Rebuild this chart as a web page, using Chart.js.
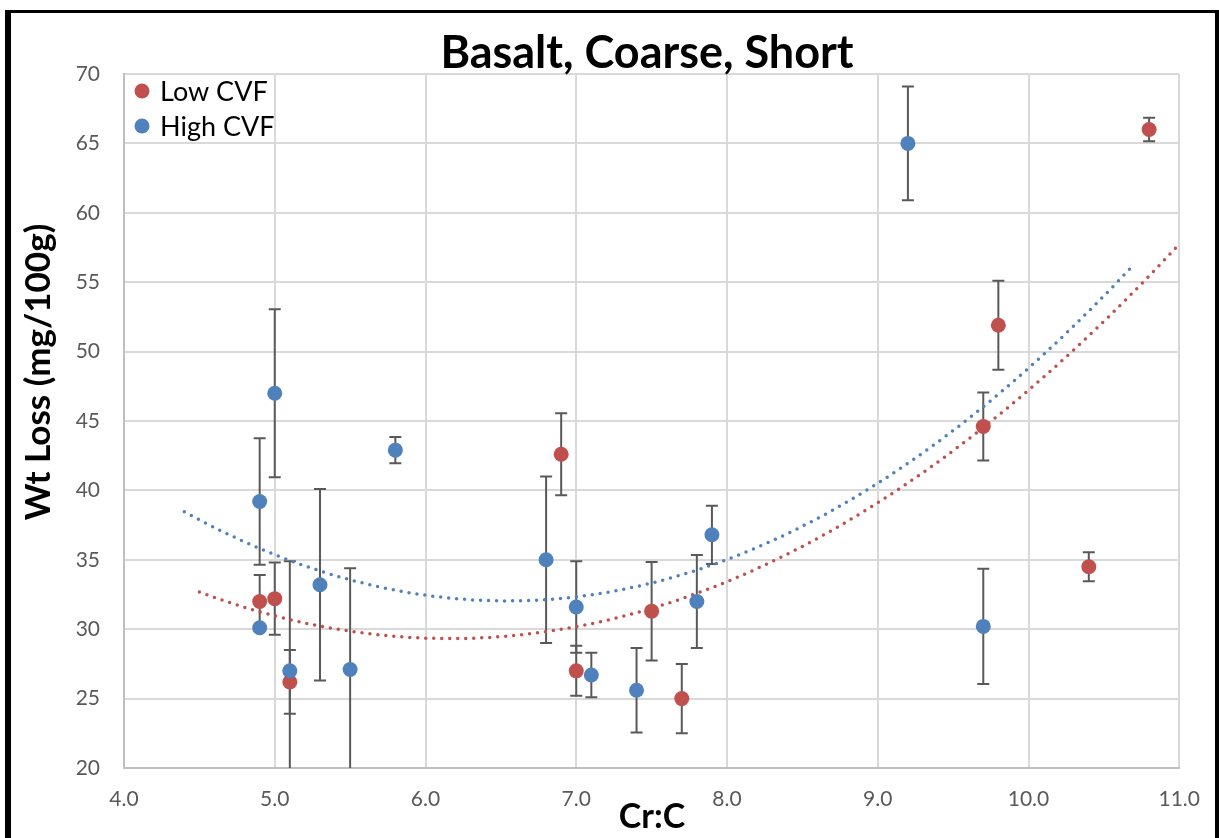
<!DOCTYPE html>
<html>
<head>
<meta charset="utf-8">
<title>Basalt, Coarse, Short</title>
<script src="https://cdn.jsdelivr.net/npm/chart.js@4"></script>
<style>
  html, body { margin: 0; padding: 0; background: #fff; }
  #wrap { position: relative; width: 1219px; height: 838px; overflow: hidden; }
  #wrap canvas { position: absolute; left: 0; top: 0; }
  #frame {
    position: absolute; left: 5px; top: 10px; width: 1204px; height: 900px;
    border-left: 6px solid #000; border-top: 3px solid #000; border-right: 4px solid #000;
    pointer-events: none;
  }
</style>
</head>
<body>
<div id="wrap">
  <canvas id="chart" width="1219" height="838"></canvas>
  <div id="frame"></div>
</div>
<script>
// Cr:C ratio, weight loss and its error (±) for each specimen
const lowX    = [4.9, 5.0, 5.1, 6.9, 7.0, 7.5, 7.7, 9.7, 9.8, 10.4, 10.8];
const lowY    = [32.0, 32.2, 26.2, 42.6, 27.0, 31.3, 25.0, 44.6, 51.9, 34.5, 66.0];
const lowErr  = [1.9, 2.6, 2.3, 2.95, 1.8, 3.55, 2.5, 2.45, 3.2, 1.05, 0.85];

const highX   = [4.9, 4.9, 5.0, 5.1, 5.3, 5.5, 5.8, 6.8, 7.0, 7.1, 7.4, 7.8, 7.9, 9.2, 9.7];
const highY   = [39.2, 30.1, 47.0, 27.0, 33.2, 27.1, 42.9, 35.0, 31.6, 26.7, 25.6, 32.0, 36.8, 65.0, 30.2];
const highErr = [4.55, 0, 6.05, 7.9, 6.9, 7.3, 0.95, 6.0, 3.3, 1.6, 3.05, 3.35, 2.1, 4.1, 4.15];

// x extent of each polynomial trendline (with forecast)
const lowTrendRange  = [4.5, 11.0];
const highTrendRange = [4.4, 10.7];

// axis ticks
const xTicks = [4, 5, 6, 7, 8, 9, 10, 11];
const yTicks = [20, 25, 30, 35, 40, 45, 50, 55, 60, 65, 70];

const RED = '#c0504d';
const BLUE = '#4f81bd';
const FONT = 'Lato, "Open Sans", sans-serif';

// second-order least-squares fit: y = c0 + c1 x + c2 x^2
function quadFit(xs, ys) {
  const s = [0, 0, 0, 0, 0], t = [0, 0, 0];
  xs.forEach((x, i) => {
    for (let k = 0; k < 5; k++) s[k] += Math.pow(x, k);
    for (let k = 0; k < 3; k++) t[k] += ys[i] * Math.pow(x, k);
  });
  const m = [[s[0], s[1], s[2], t[0]], [s[1], s[2], s[3], t[1]], [s[2], s[3], s[4], t[2]]];
  for (let c = 0; c < 3; c++) {
    let p = c;
    for (let r = c + 1; r < 3; r++) if (Math.abs(m[r][c]) > Math.abs(m[p][c])) p = r;
    [m[c], m[p]] = [m[p], m[c]];
    for (let r = 0; r < 3; r++) {
      if (r === c) continue;
      const f = m[r][c] / m[c][c];
      for (let k = c; k < 4; k++) m[r][k] -= f * m[c][k];
    }
  }
  return [m[0][3] / m[0][0], m[1][3] / m[1][1], m[2][3] / m[2][2]];
}

function trendPoints(xs, ys, range) {
  const c = quadFit(xs, ys);
  const pts = [];
  const n = 200;
  for (let i = 0; i <= n; i++) {
    const x = range[0] + (range[1] - range[0]) * i / n;
    pts.push({ x, y: c[0] + c[1] * x + c[2] * x * x });
  }
  return pts;
}

const toPoints = (xs, ys) => xs.map((x, i) => ({ x, y: ys[i] }));

// error bars, legend, titles
const decor = {
  id: 'decor',
  beforeDatasetsDraw(chart) {
    const { ctx, chartArea: a, scales: { x, y } } = chart;
    ctx.save();
    ctx.beginPath();
    ctx.rect(a.left, a.top, a.right - a.left, a.bottom - a.top);
    ctx.clip();
    ctx.strokeStyle = '#595959';
    ctx.lineWidth = 2;
    chart.data.datasets.forEach(ds => {
      if (!ds.errors) return;
      ds.data.forEach((p, i) => {
        const e = ds.errors[i];
        const px = x.getPixelForValue(p.x);
        const top = y.getPixelForValue(p.y + e);
        const bot = y.getPixelForValue(p.y - e);
        ctx.beginPath();
        ctx.moveTo(px, top); ctx.lineTo(px, bot);
        ctx.moveTo(px - 6, top); ctx.lineTo(px + 6, top);
        ctx.moveTo(px - 6, bot); ctx.lineTo(px + 6, bot);
        ctx.stroke();
      });
    });
    ctx.restore();
  },
  afterDraw(chart) {
    const { ctx } = chart;
    ctx.save();
    ctx.fillStyle = '#000';
    // chart title
    ctx.font = 'bold 45px ' + FONT;
    ctx.textAlign = 'center';
    ctx.textBaseline = 'alphabetic';
    ctx.fillText('Basalt, Coarse, Short', 647, 68);
    // x axis title
    ctx.font = 'bold 34px ' + FONT;
    ctx.fillText('Cr:C', 652, 828);
    // y axis title
    ctx.save();
    ctx.translate(39, 372);
    ctx.rotate(-Math.PI / 2);
    ctx.textBaseline = 'middle';
    ctx.font = 'bold 35px ' + FONT;
    ctx.fillText('Wt Loss (mg/100g)', 0, 0);
    ctx.restore();
    // legend
    const items = [['Low CVF', RED], ['High CVF', BLUE]];
    ctx.font = '27px ' + FONT;
    ctx.textAlign = 'left';
    ctx.textBaseline = 'middle';
    items.forEach(([label, col], i) => {
      const cy = 91 + i * 35;
      ctx.fillStyle = col;
      ctx.beginPath();
      ctx.arc(142, cy, 7.5, 0, Math.PI * 2);
      ctx.fill();
      ctx.fillStyle = '#000';
      ctx.fillText(label, 160, cy + 1);
    });
    ctx.restore();
  }
};

const tickFont = { family: FONT, size: 21 };

new Chart(document.getElementById('chart'), {
  type: 'scatter',
  data: {
    datasets: [
      {
        label: 'High CVF', data: toPoints(highX, highY), errors: highErr,
        backgroundColor: BLUE, borderColor: BLUE, borderWidth: 0,
        pointRadius: 7.5, pointHoverRadius: 7.5
      },
      {
        label: 'Low CVF', data: toPoints(lowX, lowY), errors: lowErr,
        backgroundColor: RED, borderColor: RED, borderWidth: 0,
        pointRadius: 7.5, pointHoverRadius: 7.5
      },
      {
        label: 'High CVF trend', type: 'line', data: trendPoints(highX, highY, highTrendRange),
        showLine: true, borderColor: BLUE, borderWidth: 3.5, borderDash: [0, 8],
        borderCapStyle: 'round', pointRadius: 0, fill: false, tension: 0
      },
      {
        label: 'Low CVF trend', type: 'line', data: trendPoints(lowX, lowY, lowTrendRange),
        showLine: true, borderColor: RED, borderWidth: 3.5, borderDash: [0, 8],
        borderCapStyle: 'round', pointRadius: 0, fill: false, tension: 0
      }
    ]
  },
  options: {
    responsive: false,
    animation: false,
    events: [],
    layout: { padding: { left: 0, right: 39, top: 74, bottom: 0 } },
    plugins: { legend: { display: false }, tooltip: { enabled: false }, title: { display: false } },
    scales: {
      x: {
        type: 'linear', min: xTicks[0], max: xTicks[xTicks.length - 1],
        afterFit(s) { s.height = 70; },
        afterBuildTicks(s) { s.ticks = xTicks.map(v => ({ value: v })); },
        ticks: { callback: v => Number(v).toFixed(1), color: '#595959', font: tickFont, padding: 19, maxRotation: 0 },
        grid: { color: '#d9d9d9', lineWidth: 2, drawTicks: false },
        border: { color: '#bfbfbf', width: 2 }
      },
      y: {
        type: 'linear', min: yTicks[0], max: yTicks[yTicks.length - 1],
        afterFit(s) { s.width = 124; },
        afterBuildTicks(s) { s.ticks = yTicks.map(v => ({ value: v })); },
        ticks: { callback: v => String(v), color: '#595959', font: tickFont, padding: 24 },
        grid: { color: '#d9d9d9', lineWidth: 2, drawTicks: false },
        border: { color: '#bfbfbf', width: 2 }
      }
    }
  },
  plugins: [decor]
});
</script>
</body>
</html>
